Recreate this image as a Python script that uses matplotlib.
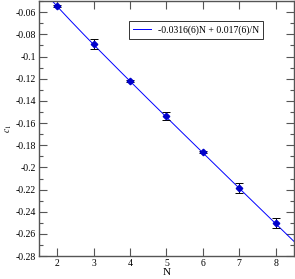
import matplotlib
matplotlib.use('Agg')
import matplotlib.pyplot as plt
from matplotlib.ticker import MultipleLocator
import numpy as np

plt.rcParams['font.family'] = ['Liberation Serif', 'DejaVu Serif']
plt.rcParams['mathtext.fontset'] = 'stix'

N = [2, 3, 4, 5, 6, 7, 8]
c1 = [-0.0546, -0.0888, -0.1221, -0.1537, -0.1862, -0.2183, -0.2500]
c1_err = [0.0010, 0.0045, 0.0008, 0.0035, 0.0008, 0.0045, 0.0048]

a_fit = -0.0316
b_fit = 0.017

fig = plt.figure(figsize=(2.95, 2.79), dpi=100)
ax = fig.add_axes([0.132, 0.082, 0.864, 0.914])

xs = np.linspace(1.5, 8.5, 200)
ax.plot(xs, a_fit * xs + b_fit / xs, color='#0000ff', lw=0.7,
        label='-0.0316(6)N + 0.017(6)/N')
ax.errorbar(N, c1, yerr=c1_err, fmt='D', color='#0000cc', ms=3.3,
            ecolor='black', elinewidth=0.7, capsize=3, capthick=0.7, zorder=3)

ax.set_xlim(1.5, 8.5)
ax.set_ylim(-0.28, -0.05)
ax.xaxis.set_major_locator(MultipleLocator(1))
ax.yaxis.set_minor_locator(MultipleLocator(0.01))
ax.set_yticks(np.arange(-0.28, -0.059, 0.02))
ax.set_yticklabels(['-0.28', '-0.26', '-0.24', '-0.22', '-0.2', '-0.18', '-0.16',
                    '-0.14', '-0.12', '-0.1', '-0.08', '-0.06'])
ax.tick_params(which='both', direction='in', top=True, right=True,
               labelsize=7, color='#555555', pad=2)
ax.tick_params(which='major', length=6, width=0.8)
ax.tick_params(which='minor', length=3, width=0.8)
for s in ax.spines.values():
    s.set_color('#555555')
    s.set_linewidth(1)

ax.set_xlabel('N', fontsize=8, labelpad=0)
ax.set_ylabel('$c_1$', fontsize=7, labelpad=1)

leg = ax.legend(loc='upper right', bbox_to_anchor=(0.9, 0.94), fontsize=7,
                frameon=True, fancybox=False, edgecolor='black',
                handlelength=1.8, borderpad=0.4, handletextpad=0.8)
leg.get_frame().set_linewidth(0.7)

fig.savefig('out.png', dpi=100)
